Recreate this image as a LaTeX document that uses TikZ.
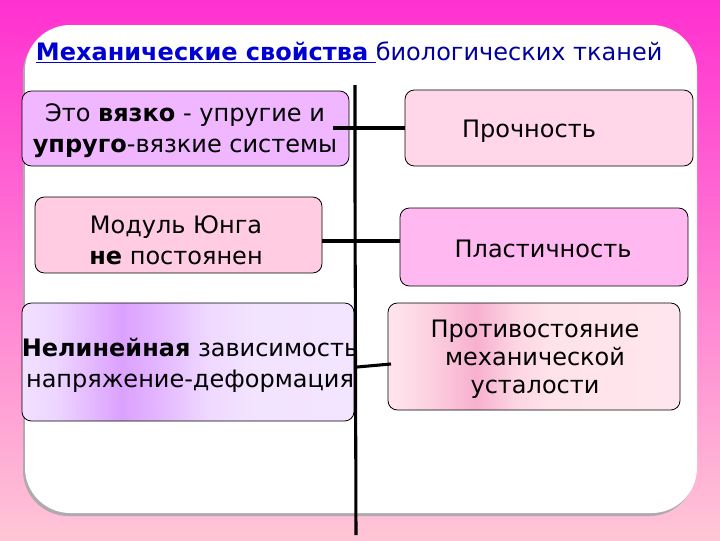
\documentclass[tikz,border=0pt]{standalone}
\usepackage{fontspec}
\setmainfont{DejaVu Sans}
\definecolor{bgtop}{RGB}{255,48,208}
\definecolor{bgbot}{RGB}{255,198,214}
\definecolor{shadowc}{RGB}{175,170,175}
\definecolor{titleA}{RGB}{0,0,210}
\definecolor{titleB}{RGB}{0,0,160}
\definecolor{fillA}{RGB}{240,182,255}
\definecolor{fillB}{RGB}{255,204,226}
\definecolor{fillC}{RGB}{255,215,232}
\definecolor{fillD}{RGB}{255,185,240}
\pgfdeclarehorizontalshading{violetband}{100bp}{rgb(0bp)=(0.95,0.88,1); rgb(25bp)=(0.95,0.88,1); rgb(30bp)=(0.93,0.84,1); rgb(40bp)=(0.86,0.63,1); rgb(47bp)=(0.90,0.74,1); rgb(53bp)=(0.94,0.85,1); rgb(60bp)=(0.95,0.89,1); rgb(100bp)=(0.96,0.90,1)}
\pgfdeclarehorizontalshading{pinkband}{100bp}{rgb(0bp)=(1,0.90,0.93); rgb(25bp)=(1,0.90,0.93); rgb(32bp)=(0.99,0.82,0.88); rgb(40bp)=(0.97,0.69,0.81); rgb(47bp)=(0.99,0.84,0.89); rgb(53bp)=(1,0.89,0.92); rgb(100bp)=(1,0.91,0.94)}
\begin{document}
\begin{tikzpicture}[x=0.75pt,y=-0.75pt,
  every node/.style={inner sep=0pt, outer sep=0pt},
  box/.style={draw=black, line width=0.6pt, rounded corners=7pt},
  txt/.style={align=center, font=\fontsize{18}{23}\selectfont},
  conn/.style={line width=2.3pt}]
\useasboundingbox (0,0) rectangle (720,540);
\shade[top color=bgtop, bottom color=bgbot] (0,0) rectangle (720,540);
% panel
\fill[shadowc, rounded corners=34pt] (23,28) rectangle (695,516);
\fill[white, rounded corners=34pt] (25,25) rectangle (697,513);
% title
\node[anchor=base west, font=\fontsize{18}{20}\selectfont] (title) at (36,60)
  {\textcolor{titleA}{\underline{\textbf{Механические свойства}\ }}\textcolor{titleB}{биологических тканей}};
% left boxes
\node[box, fill=fillA, minimum width=245.25pt, minimum height=56.25pt] (b1) at (185.5,128.5) {};
\node[box, fill=fillB, minimum width=215.25pt, minimum height=57pt] (b2) at (178.5,235) {};
\node[box, shading=violetband, minimum width=249pt, minimum height=88.5pt] (b3) at (188,362) {};
% right boxes
\node[box, fill=fillC, minimum width=216pt, minimum height=57pt] (r1) at (549,128) {};
\node[box, fill=fillD, minimum width=216pt, minimum height=58.5pt] (r2) at (544,247) {};
\node[box, shading=pinkband, minimum width=219pt, minimum height=80.25pt] (r3) at (534,356.5) {};
% texts
\node[txt] (t1) at (185,131) {Это \textbf{вязко} - упругие и\\\textbf{упруго}-вязкие системы};
\node[txt] (t2) at (176,240) {Модуль Юнга\\\textbf{не} постоянен};
\node[txt] (t3) at (190,365) {\textbf{Нелинейная} зависимость\\напряжение-деформация};
\node[txt] (u1) at (529,131) {Прочность};
\node[txt] (u2) at (543,249) {Пластичность};
\node[txt, font=\fontsize{18}{21}\selectfont] (u3) at (535,359) {Противостояние\\механической\\усталости};
% connectors
\coordinate (vtop) at (355,85);
\coordinate (vmid) at (355,193);
\coordinate (vbot) at (356,535);
\draw[conn] (vtop) -- (vmid) -- (vbot);
\coordinate (c1) at (333,128);
\draw[conn] (c1) -- (r1.west);
\coordinate (c2) at (322,241);
\draw[conn] (c2) -- (c2 -| r2.west);
\coordinate (c3) at (357,367);
\coordinate (c3b) at (391,364);
\draw[conn] (c3) -- (c3b);
\end{tikzpicture}
\end{document}
